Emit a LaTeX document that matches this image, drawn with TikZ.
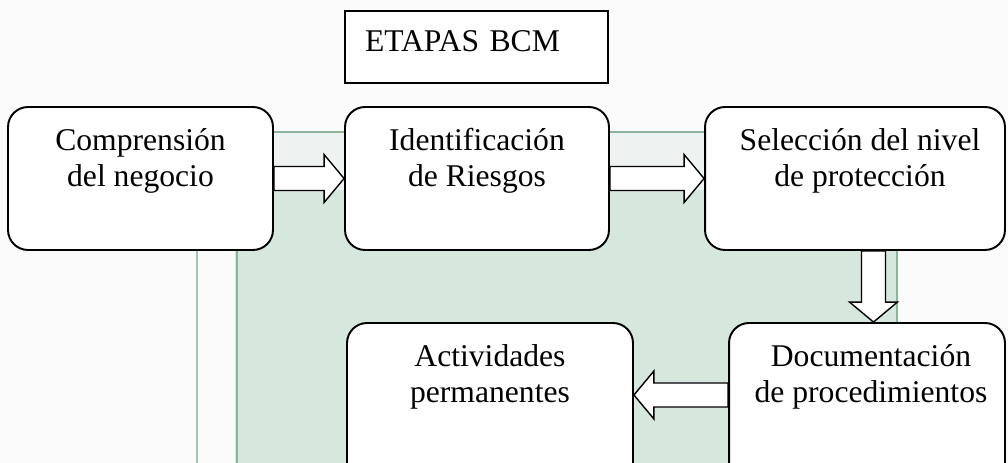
\documentclass[tikz,border=0pt]{standalone}
\usepackage{fontspec}
\setmainfont{Liberation Serif}
\usetikzlibrary{calc}

\definecolor{bgmint}{RGB}{214,231,221}
\definecolor{bglight}{RGB}{238,243,241}
\definecolor{bgline}{RGB}{140,180,155}
\definecolor{paper}{RGB}{251,251,251}

\tikzset{
  stepbox/.style={draw,line width=1.1pt,fill=white,rounded corners=0.4cm},
  steptext/.style={anchor=north,align=center,inner sep=0pt},
  titlebox/.style={draw,line width=1.1pt,fill=white,minimum width=5.26cm,minimum height=1.44cm,
    text width=4.46cm,inner xsep=0.4cm,align=left,text depth=0.22cm},
  blockarr/.style={draw,line width=0.8pt,fill=white,line join=miter}
}

% hollow block arrow from #1 to #2
\newcommand{\blockarrow}[2]{%
  \draw[blockarr] ($(#1)!0.24cm!90:(#2)$)
    -- ($(#2)!0.4cm!(#1)!0.24cm!90:(#2)$)
    -- ($(#2)!0.4cm!(#1)!0.48cm!90:(#2)$)
    -- (#2)
    -- ($(#2)!0.4cm!(#1)!0.48cm!-90:(#2)$)
    -- ($(#2)!0.4cm!(#1)!0.24cm!-90:(#2)$)
    -- ($(#1)!0.24cm!-90:(#2)$) -- cycle;}

\begin{document}
\begin{tikzpicture}[x=0.02cm,y=0.02cm,font=\fontsize{18}{20.5}\selectfont]

\path[clip] (0,0) rectangle (1008,463);
\fill[paper] (0,0) rectangle (1008,463);

% scanned background
\fill[bgmint] (235,0) rectangle (897,273);
\fill[bglight] (235,273) rectangle (897,331);
\draw[bgline,line width=1.5pt] (235,331) -- (897,331);
\draw[bgline,line width=1.5pt] (237,0) -- (237,331);
\draw[bgline!80,line width=1.2pt] (197,0) -- (197,240);
\draw[bgline,line width=1.5pt] (897,0) -- (897,331);

\node[titlebox] (title) at (476.5,416) {ETAPAS BCM};

\node[stepbox,minimum width=5.3cm,minimum height=2.86cm] (compr) at (140.5,284.5) {};
\node[stepbox,minimum width=5.28cm,minimum height=2.86cm] (ident) at (477,284.5) {};
\node[stepbox,minimum width=6.0cm,minimum height=2.86cm] (selec) at (855,284.5) {};
\node[stepbox,minimum width=5.72cm,minimum height=3.54cm] (activ) at (490,51.5) {};
\node[stepbox,minimum width=5.52cm,minimum height=3.54cm] (docum) at (867,51.5) {};

\node[steptext] (compr-t) at ([yshift=-0.44cm]compr.north) {Comprensión\\del negocio};
\node[steptext] (ident-t) at ([yshift=-0.44cm]ident.north) {Identificación\\de Riesgos};
\node[steptext] (selec-t) at ([yshift=-0.44cm,xshift=0.1cm]selec.north) {Selección del nivel\\de protección};
\node[steptext] (activ-t) at ([yshift=-0.44cm]activ.north) {Actividades\\permanentes};
\node[steptext] (docum-t) at ([yshift=-0.44cm,xshift=0.08cm]docum.north) {Documentación\\de procedimientos};

\coordinate (down-a) at ([xshift=0.37cm]selec.south);
\coordinate (down-b) at (down-a |- docum.north);
\coordinate (left-a) at ([yshift=0.33cm]docum.west);
\coordinate (left-b) at (left-a -| activ.east);

\blockarrow{compr.east}{ident.west}
\blockarrow{ident.east}{selec.west}
\blockarrow{down-a}{down-b}
\blockarrow{left-a}{left-b}

\end{tikzpicture}
\end{document}
